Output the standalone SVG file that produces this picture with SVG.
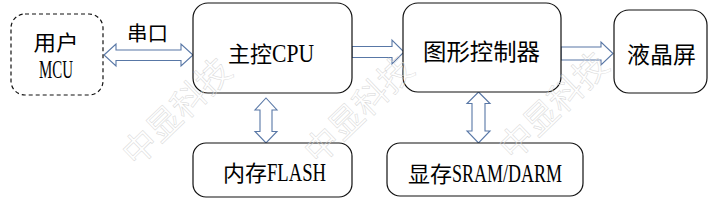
<svg xmlns="http://www.w3.org/2000/svg" width="715" height="204" viewBox="0 0 715 204">
<style>
.box{fill:#fff;stroke:#111;stroke-width:1.2}
.dash{fill:#fff;stroke:#111;stroke-width:1.2;stroke-dasharray:4 3}
.lbl{font-family:"Liberation Serif","Noto Sans CJK SC",serif;font-size:22px;fill:#000;text-anchor:middle}
.lat{font-size:25px}
.arr{fill:#fff;stroke:#5877a6;stroke-width:1.1;stroke-linejoin:miter}
.wm{font-family:"Noto Sans CJK SC","Liberation Sans",sans-serif;font-size:34px;fill:none;stroke:#d6d6d6;stroke-width:0.5;text-anchor:middle;dominant-baseline:central}
</style>
<rect width="715" height="204" fill="#fff"/>
<g id="connectors">
<polygon class="arr" points="104,55 116,44 116,50 181,50 181,44 193,55 181,66 181,60.5 116,60.5 116,66"/>
<polygon class="arr" points="352,46.5 392,46.5 392,40 404,52 392,64 392,57.5 352,57.5"/>
<polygon class="arr" points="561,47 601,47 601,42 613,53.5 601,65 601,60 561,60"/>
<polygon class="arr" points="266,98 277,110 272,110 272,131.5 277,131.5 266,143 255,131.5 260,131.5 260,110 255,110"/>
<polygon class="arr" points="478.5,92 490,103.5 485,103.5 485,131 490,131 478.5,143 467,131 472,131 472,103.5 467,103.5"/>
<text class="lbl" x="147.5" y="41" style="font-size:20px" textLength="41" lengthAdjust="spacingAndGlyphs">串口</text>
</g>
<g id="mcu">
<rect class="dash" x="11" y="14" width="92" height="81" rx="14"/>
<text class="lbl" x="56" y="50" style="font-size:21px" textLength="45" lengthAdjust="spacingAndGlyphs">用户</text>
<text class="lbl lat" x="56" y="78" textLength="34" lengthAdjust="spacingAndGlyphs">MCU</text>
</g>
<g id="cpu">
<rect class="box" x="193" y="3" width="159" height="90" rx="15"/>
<text class="lbl" x="228" y="62" style="text-anchor:start">主控<tspan class="lat" textLength="42" lengthAdjust="spacingAndGlyphs">CPU</tspan></text>
</g>
<g id="gpu">
<rect class="box" x="403" y="3" width="158" height="89" rx="15"/>
<text class="lbl" x="481.5" y="60" style="font-size:23px" textLength="117" lengthAdjust="spacingAndGlyphs">图形控制器</text>
</g>
<g id="lcd">
<rect class="box" x="614" y="10" width="93" height="83" rx="15"/>
<text class="lbl" x="661.5" y="63" style="font-size:23px" textLength="69" lengthAdjust="spacingAndGlyphs">液晶屏</text>
</g>
<g id="flash">
<rect class="box" x="193" y="143" width="159" height="54" rx="13"/>
<text class="lbl" x="223" y="181" style="text-anchor:start">内存<tspan class="lat" textLength="59" lengthAdjust="spacingAndGlyphs">FLASH</tspan></text>
</g>
<g id="sram">
<rect class="box" x="387" y="143" width="196" height="53" rx="13"/>
<text class="lbl" x="408" y="182" style="text-anchor:start">显存<tspan class="lat" textLength="110" lengthAdjust="spacingAndGlyphs">SRAM/DARM</tspan></text>
</g>
<g id="watermark">
<text class="wm" transform="translate(175,110) rotate(-44)">中显科技</text>
<text class="wm" transform="translate(357,108) rotate(-44)">中显科技</text>
<text class="wm" transform="translate(552,104) rotate(-44)">中显科技</text>
</g>
</svg>
